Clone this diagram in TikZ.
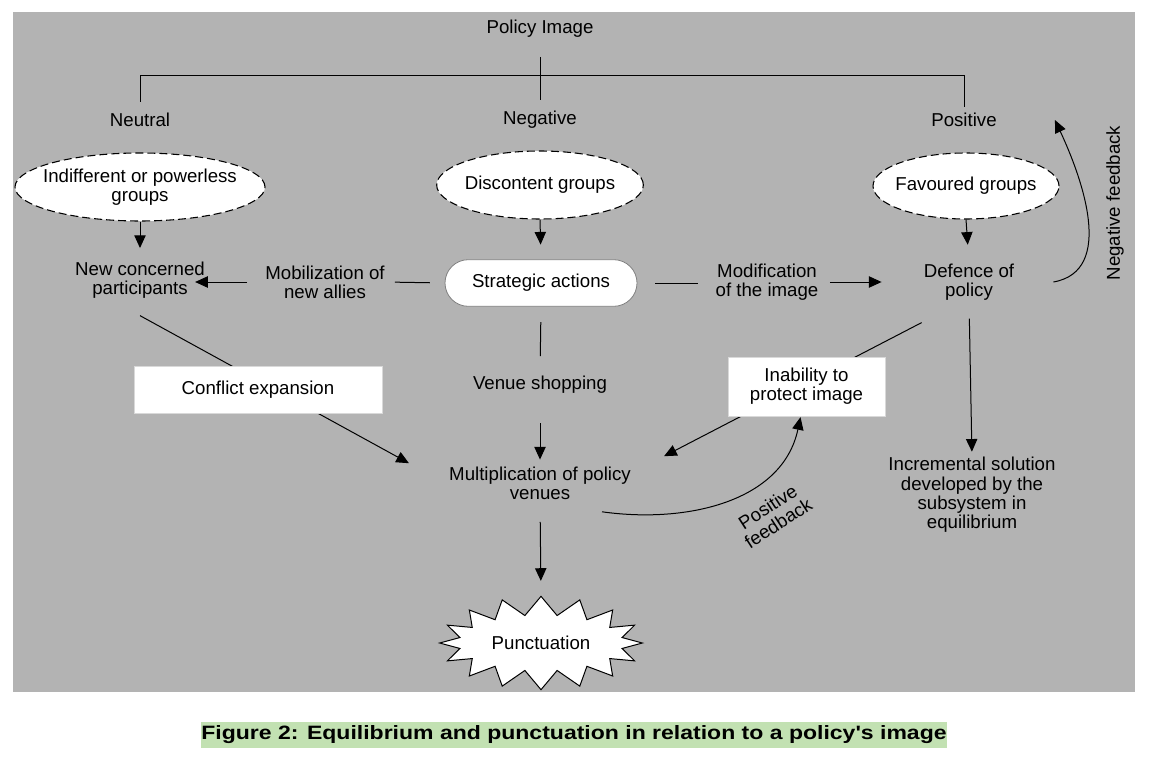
\documentclass[tikz,border=0pt]{standalone}
\usepackage{fontspec}
\setmainfont{Liberation Sans}
\usepackage{tikz}
\usetikzlibrary{arrows.meta}
\usetikzlibrary{calc}
\usetikzlibrary{shapes.geometric}
\usetikzlibrary{shapes.misc}
\usetikzlibrary{shapes.symbols}
\definecolor{bggray}{RGB}{179,179,179}
\definecolor{capgreen}{RGB}{194,225,178}

\begin{document}
\begin{tikzpicture}[x=0.75pt,y=-0.75pt,
    txt/.style={align=center,inner sep=0pt,font=\fontsize{14}{14.5}\selectfont},
    grp/.style={ellipse,draw,fill=white,dash pattern=on 6pt off 3pt,line width=0.8pt},
    labelbox/.style={txt,rectangle,fill=white,draw=gray!30,line width=0.5pt},
    arr/.style={-{Triangle[length=9.5pt,width=8.5pt]},line width=0.75pt},
    ln/.style={line width=0.75pt}]
    % 背景
    \useasboundingbox (0,0) rectangle (1151,759);
    \fill[bggray] (13,12) rectangle (1135,692);

    % 政策形象
    \node[txt] (img) at (540,29) {Policy Image};
    \node[txt] (neu) at (140,120) {Neutral};
    \node[txt] (neg) at (540,120) {Negative};
    \node[txt] (pos) at (964,120) {Positive};
    \draw[ln] ($(img.south)+(0,19)$) -- ($(neg.north)+(0,-11)$);
    \draw[ln] ($(neu.north)+(0,-11)$) -- ($(neu.north)+(0,-37)$) -- ($(pos.north)+(0,-37)$) -- ($(pos.north)+(0,-6)$);

    \node[grp,minimum width=187.5pt,minimum height=51pt,label={[txt]center:{Indifferent or powerless\\groups}}] (indg) at (140,187) {};
    \node[grp,minimum width=155pt,minimum height=51pt,label={[txt]center:{Discontent groups}}] (disg) at (540,185) {};
    \node[grp,minimum width=139.5pt,minimum height=49.5pt,label={[txt]center:{Favoured groups}}] (favg) at (966,186) {};

    \node[txt] (ncp) at (140,280) {New concerned\\participants};
    \node[txt] (mob) at (325,282) {Mobilization of\\new allies};
    \node[txt,rounded rectangle,draw=gray,fill=white,line width=0.6pt,minimum width=144pt,minimum height=35pt] (strat) at (541,283) {Strategic actions};
    \node[txt] (mod) at (767,282) {Modification\\of the image};
    \node[txt] (def) at (969,282) {Defence of\\policy};
    \node[txt] (ven) at (540,385) {Venue shopping};
    \node[txt] (mult) at (540,483) {Multiplication of policy\\venues};
    \node[txt] (inc) at (972,495) {Incremental solution\\developed by the\\subsystem in\\equilibrium};
    \node[txt,starburst,draw,fill=white,line width=0.75pt,starburst points=16,starburst point height=14pt,random starburst=0,minimum width=152pt,minimum height=70pt] (pun) at (541,643) {Punctuation};

    \draw[arr,shorten >=10pt] (indg.south) -- (ncp.north);
    \draw[arr,shorten >=11pt] (disg.south) -- (strat.north);
    \draw[arr,shorten >=14pt] (favg.south) -- (def.north);

    \draw[arr,shorten <=13.5pt,shorten >=-7.5pt] (mob.west) -- (mob.west -| ncp.east);
    \draw[ln,shorten <=7.5pt,shorten >=11pt] (mob.east) -- (strat.west);
    \draw[ln,shorten <=13.5pt,shorten >=13pt] (strat.east) -- (strat.east -| mod.west);
    \draw[arr,shorten <=8.5pt,shorten >=31.5pt] (mod.east) -- (mod.east -| def.west);

    \draw[ln,shorten <=11.5pt,shorten >=15pt] (strat.south) -- (ven.north);
    \draw[arr,shorten <=22pt,shorten >=5pt] (ven.south) -- (mult.north);
    \draw[arr,shorten <=16.5pt,shorten >=11pt] (mult.south) -- (pun.north);
    \draw[arr,shorten <=13.5pt,shorten >=4pt] (def.south) -- (inc.north);

    % 反馈
    \draw[arr] ($(def.east)+(39,0)$) to[out=10,in=-65] ($(pos.east)+(58,0)$);
    \node[txt,rotate=90] (negfb) at (1115,203) {Negative feedback};

    \draw[arr] ($(ncp.south)+(0,17)$) -- ($(mult.north west)+(-40,-3)$);
    \node[labelbox,minimum width=186pt,minimum height=35pt] (conf) at (258,389.5) {Conflict expansion};

    \draw[arr] ($(def.south west)+(-2,22)$) -- ($(mult.north east)+(33,-10)$);
    \node[labelbox,minimum width=118pt,minimum height=44pt] (inab) at (806.5,386.5) {Inability to\\protect image};

    \draw[arr] ($(mult.south)+(62,12)$) to[out=-8,in=-102] ($(inab.south)+(-6,1)$);
    \node[txt,rotate=33] (posfb) at (773,515) {Positive\\feedback};

    \node[inner sep=0pt,fill=capgreen,minimum width=556.5pt,minimum height=19.5pt] (cap) at (574,735)
        {\fontsize{14.5}{15}\selectfont\bfseries\scalebox{1.19}[1]{Figure 2: Equilibrium and punctuation in relation to a policy\textquotesingle s image}};
\end{tikzpicture}
\end{document}
